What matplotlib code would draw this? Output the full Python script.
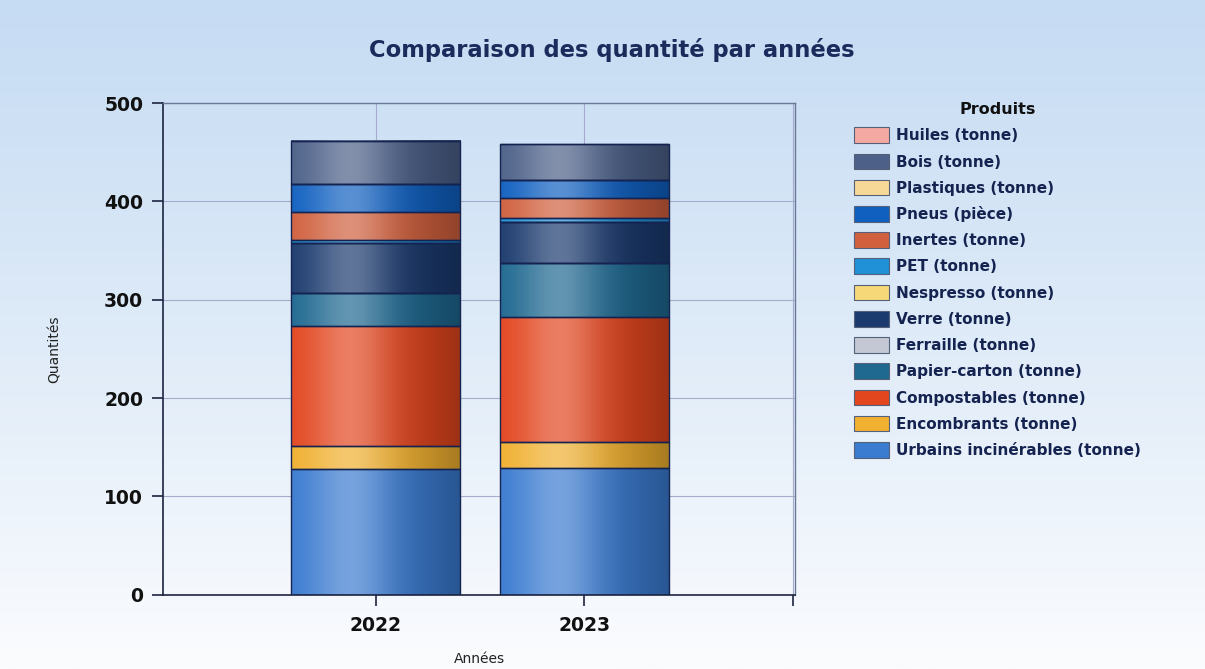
import numpy as np
import matplotlib
matplotlib.use("Agg")
import matplotlib.pyplot as plt
import matplotlib.colors as mcolors
from matplotlib.patches import Patch

# Data (bottom of the stack first)
years = ['2022', '2023']
products = ['Urbains incinérables (tonne)', 'Encombrants (tonne)', 'Compostables (tonne)',
            'Papier-carton (tonne)', 'Ferraille (tonne)', 'Verre (tonne)', 'Nespresso (tonne)',
            'PET (tonne)', 'Inertes (tonne)', 'Pneus (pièce)', 'Plastiques (tonne)',
            'Bois (tonne)', 'Huiles (tonne)']
urbains = [128, 128.5]
encombrants = [23.5, 27]
compostables = [122, 127]
papier = [33.5, 55]
ferraille = [0, 0]
verre = [50.5, 41.5]
nespresso = [0.5, 0.5]
pet = [3, 4]
inertes = [28.5, 20]
pneus = [28, 18.5]
plastiques = [0, 0]
bois = [44.3, 36.5]
huiles = [0, 0]
series = [urbains, encombrants, compostables, papier, ferraille, verre, nespresso,
          pet, inertes, pneus, plastiques, bois, huiles]
colors = ['#3b7bd0', '#f0b030', '#e2461f', '#1f6890', '#c4c8d4', '#1b3a6e', '#f6d878',
          '#2091d6', '#d0603e', '#1060c0', '#f8d896', '#4c6088', '#f4aaa2']

navy = '#14234f'

fig = plt.figure(figsize=(12.05, 6.69), dpi=100)

# background gradient
bg = fig.add_axes([0, 0, 1, 1], zorder=-10)
top = np.array(mcolors.to_rgb('#c6dcf3'))
bot = np.array(mcolors.to_rgb('#fbfcfe'))
s = np.linspace(0, 1, 300) ** 1.1
grad = top[None, :] * (1 - s[:, None]) + bot[None, :] * s[:, None]
bg.imshow(grad[:, None, :], aspect='auto', extent=(0, 1, 0, 1))
bg.axis('off')

ax = fig.add_axes([0.135, 0.111, 0.525, 0.735])
ax.set_facecolor('none')


def shade(rect, color):
    # cylinder-like shading of one bar segment
    x0, y0 = rect.get_x(), rect.get_y()
    w, h = rect.get_width(), rect.get_height()
    if h <= 0:
        return
    t = np.linspace(0, 1, 200)
    base = np.array(mcolors.to_rgb(color))
    hi = 0.30 * np.exp(-((t - 0.35) / 0.24) ** 2)
    dk = 0.30 * np.clip((t - 0.35) / 0.65, 0, 1) ** 1.2
    rgb = base[None, :] * (1 - dk[:, None])
    rgb = rgb + (1 - rgb) * hi[:, None]
    ax.imshow(rgb[None, :, :], extent=(x0, x0 + w, y0, y0 + h), aspect='auto',
              zorder=2, interpolation='bilinear')


x = np.arange(len(years))
bottom = np.zeros(len(years))
for vals, c in zip(series, colors):
    bars = ax.bar(x, vals, 0.81, bottom=bottom, facecolor='none', edgecolor=navy,
                  linewidth=1.0, zorder=3)
    for r in bars:
        shade(r, c)
    bottom += np.array(vals)

ax.set_xlim(-1.02, 2.01)
ax.set_ylim(0, 500)
ax.set_xticks([0, 1, 2])
ax.set_xticklabels(years + [''])
ax.set_yticks([0, 100, 200, 300, 400, 500])
ax.grid(True, color='#a4abcc', linewidth=0.8, zorder=0)
ax.set_axisbelow(True)
for sp in ['left', 'bottom']:
    ax.spines[sp].set_color('#1c2440')
    ax.spines[sp].set_linewidth(1.2)
for sp in ['top', 'right']:
    ax.spines[sp].set_color('#6a7898')
    ax.spines[sp].set_linewidth(1.0)
ax.tick_params(axis='y', length=8, width=1.2, pad=6, labelsize=13.5, colors='#1c2440')
ax.tick_params(axis='x', length=8, width=1.2, pad=7, labelsize=13.5, colors='#1c2440')
for lab in ax.get_xticklabels() + ax.get_yticklabels():
    lab.set_fontweight('bold')
    lab.set_color('#111111')

ax.set_ylabel('Quantités', fontsize=10, color='#222222')
ax.set_xlabel('Années', fontsize=10, color='#222222', va='center')
ax.yaxis.set_label_coords(-0.16, 0.5)
ax.xaxis.set_label_coords(0.5, -0.13)

fig.text(0.508, 0.925, 'Comparaison des quantité par années', ha='center', va='center',
         fontsize=16.3, fontweight='bold', color='#1a2b5c')

handles = [Patch(facecolor=c, edgecolor='#55607a', linewidth=0.8, label=p)
           for p, c in zip(products, colors)][::-1]
leg = fig.legend(handles=handles, loc='upper left', bbox_to_anchor=(0.697, 0.868),
                 frameon=False, title='Produits', fontsize=11, handlelength=2.3,
                 handleheight=1.2, labelspacing=0.67, handletextpad=0.5,
                 title_fontproperties={'weight': 'bold', 'size': 11.5})
for t in leg.get_texts():
    t.set_fontweight('bold')
    t.set_color('#14234f')
leg.get_title().set_color('#111111')

fig.savefig('out.png', dpi=100)
